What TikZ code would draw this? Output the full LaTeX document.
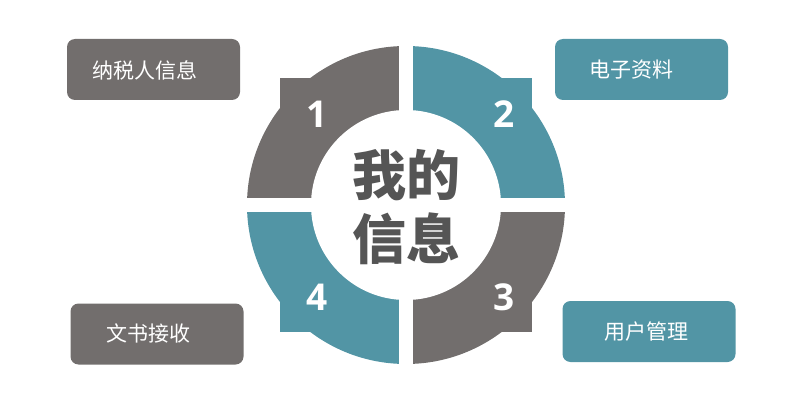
\documentclass[tikz,border=0pt]{standalone}
\usepackage{fontspec}
\setmainfont{Open Sans}
\newfontfamily\cjk{Noto Sans CJK SC}
\definecolor{qgray}{HTML}{726E6D}
\definecolor{qteal}{HTML}{5295A5}
\definecolor{ctext}{HTML}{555555}
\begin{document}
\begin{tikzpicture}[x=1pt,y=-1pt,
  numlbl/.style={text=white,font=\fontsize{37}{37}\selectfont\bfseries,inner sep=0pt},
  boxlbl/.style={rounded corners=8pt,minimum width=173pt,minimum height=61pt,inner sep=0pt},
  boxtxt/.style={text=white,font=\cjk\fontsize{21}{21}\selectfont,inner sep=0pt},
  centertxt/.style={text=ctext,font=\cjk\bfseries\fontsize{54}{64}\selectfont,align=center,inner sep=0pt}]
\useasboundingbox (0,0) rectangle (800,406);
\coordinate (C) at (406,205);
% quadrants
\foreach \sx/\sy/\col in {-1/-1/qgray, 1/-1/qteal, 1/1/qgray, -1/1/qteal}{
  \begin{scope}
    \clip (C) rectangle ++(\sx*200,\sy*200);
    \fill[\col] (C) circle (159);
    \fill[\col] (C) rectangle ++(\sx*126,\sy*127);
  \end{scope}
}
\fill[white] (C) circle (95);
\fill[white] (399,30) rectangle (413,380);
\fill[white] (230,198) rectangle (580,212);
% numbers
\node[numlbl] (n1) at (317,114) {1};
\node[numlbl] (n2) at (504,114) {2};
\node[numlbl] (n3) at (504,297) {3};
\node[numlbl] (n4) at (317,297) {4};
% center
\node[centertxt] (ctr) at (406,207) {我的\\信息};
% boxes
\node[boxlbl,fill=qgray] (b1) at (153.5,69.5) {};
\node[boxtxt] (t1) at (145,70) {纳税人信息};
\node[boxlbl,fill=qteal] (b2) at (641.5,69.5) {};
\node[boxtxt] (t2) at (631,70) {电子资料};
\node[boxlbl,fill=qgray] (b3) at (157,334) {};
\node[boxtxt] (t3) at (148.5,333) {文书接收};
\node[boxlbl,fill=qteal] (b4) at (649,331.5) {};
\node[boxtxt] (t4) at (646.5,332) {用户管理};
\end{tikzpicture}
\end{document}
